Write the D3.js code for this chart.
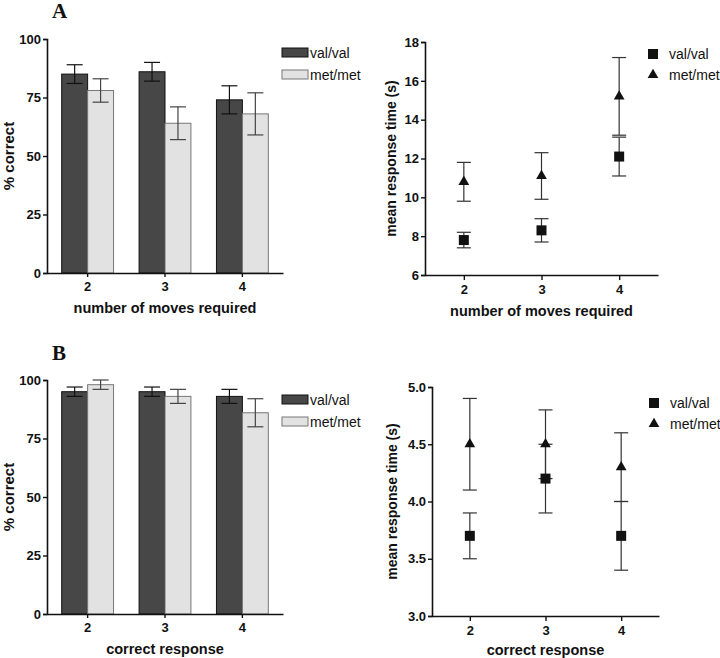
<!DOCTYPE html>
<html><head><meta charset="utf-8">
<script src="https://cdn.jsdelivr.net/npm/d3@7"></script>
<style>body{margin:0;background:#fff}svg{display:block}</style>
</head><body>
<svg id="c" width="720" height="658" font-family="Arial, 'Liberation Sans', sans-serif"></svg>
<script>
const groups = ["2","3","4"];
const seriesNames = ["val/val","met/met"];
// Panel A bars
const aBarVal = [85, 86, 74];
const aBarValErr = [4, 4, 6];
const aBarMet = [78, 64, 68];
const aBarMetErr = [5, 7, 9];
// Panel A scatter
const aRtVal = [7.8, 8.3, 12.1];
const aRtValErr = [0.4, 0.6, 1.0];
const aRtMet = [10.8, 11.1, 15.2];
const aRtMetErr = [1.0, 1.2, 2.0];
// Panel B bars
const bBarVal = [95, 95, 93];
const bBarValErr = [2, 2, 3];
const bBarMet = [98, 93, 86];
const bBarMetErr = [2, 3, 6];
// Panel B scatter
const bRtVal = [3.7, 4.2, 3.7];
const bRtValErr = [0.2, 0.3, 0.3];
const bRtMet = [4.5, 4.5, 4.3];
const bRtMetErr = [0.4, 0.3, 0.3];
const pctTicks = [0, 25, 50, 75, 100];
const aRtTicks = [6, 8, 10, 12, 14, 16, 18];
const bRtTicks = [3.0, 3.5, 4.0, 4.5, 5.0];

const svg = d3.select("#c");
const DARK = "#474747", LIGHT = "#e2e2e2";

function styleAxis(g){
  g.attr("font-family",null);
  g.selectAll("path.domain").attr("stroke","#111").attr("stroke-width",1.6);
  g.selectAll(".tick line").attr("stroke","#111").attr("stroke-width",1.4);
  g.selectAll("text").attr("font-size",13).attr("font-weight","bold").attr("fill","#111");
}

function barPanel(o){
  const y = d3.scaleLinear().domain([0,100]).range([o.y0, o.y1]);
  const x = d3.scaleBand().domain(groups).range([o.x0, o.x1]).paddingInner(0.33).paddingOuter(0.19);
  const xs = d3.scaleBand().domain(seriesNames).range([0, x.bandwidth()]);
  const g = svg.append("g");
  const series = [
    {name:"val/val", v:o.val, e:o.valErr, fill:DARK, stroke:"#111"},
    {name:"met/met", v:o.met, e:o.metErr, fill:LIGHT, stroke:"#777"}
  ];
  series.forEach(s=>{
    groups.forEach((c,i)=>{
      const bx = x(c)+xs(s.name), bw = xs.bandwidth();
      g.append("rect").attr("x",bx).attr("y",y(s.v[i])).attr("width",bw).attr("height",y(0)-y(s.v[i]))
        .attr("fill",s.fill).attr("stroke",s.stroke).attr("stroke-width",1);
      const cx = bx+bw/2, hi=y(s.v[i]+s.e[i]), lo=y(s.v[i]-s.e[i]);
      const ec = s.name==="val/val" ? "#111" : "#444";
      g.append("line").attr("x1",cx).attr("x2",cx).attr("y1",hi).attr("y2",lo).attr("stroke",ec).attr("stroke-width",1.2);
      [hi,lo].forEach(yy=>g.append("line").attr("x1",cx-8).attr("x2",cx+8).attr("y1",yy).attr("y2",yy).attr("stroke",ec).attr("stroke-width",1.2));
    });
  });
  const ya = g.append("g").attr("transform",`translate(${o.x0},0)`).call(d3.axisLeft(y).tickValues(pctTicks).tickSize(4).tickPadding(2));
  styleAxis(ya);
  const xa = g.append("g").attr("transform",`translate(0,${o.y0})`).call(d3.axisBottom(d3.scaleLinear().domain([0,1]).range([o.x0,o.x1])).tickValues([]).tickSizeOuter(0));
  styleAxis(xa);
  groups.forEach(c=>{
    const cx = x(c)+x.bandwidth()/2;
    g.append("line").attr("x1",cx).attr("x2",cx).attr("y1",o.y0).attr("y2",o.y0+4).attr("stroke","#111").attr("stroke-width",1.4);
    g.append("text").attr("x",cx).attr("y",o.y0+18).attr("text-anchor","middle").attr("font-size",13).attr("font-weight","bold").attr("fill","#111").text(c);
  });
  g.append("text").attr("transform",`translate(${o.ylx},${(o.y0+o.y1)/2}) rotate(-90)`).attr("text-anchor","middle")
    .attr("font-size",15).attr("font-weight","bold").attr("fill","#111").text("% correct");
  g.append("text").attr("x",(o.x0+o.x1)/2).attr("y",o.xly).attr("text-anchor","middle")
    .attr("font-size",14.5).attr("font-weight","bold").attr("fill","#111").text(o.xlabel);
  series.forEach((s,i)=>{
    g.append("rect").attr("x",282).attr("y",o.ly+i*22).attr("width",26).attr("height",9).attr("fill",s.fill).attr("stroke",s.stroke);
    g.append("text").attr("x",310).attr("y",o.ly+i*22+9.5).attr("font-size",14).attr("fill","#111").text(s.name);
  });
}

function scatterPanel(o){
  const y = d3.scaleLinear().domain(o.ydom).range([o.y0,o.y1]);
  const x = d3.scaleLinear().domain([1.5,4.5]).range([o.x0,o.x1]);
  const g = svg.append("g");
  const sq = d3.symbol().type(d3.symbolSquare).size(100);
  const tri = d3.symbol().type(d3.symbolTriangle).size(50);
  const series = [
    {name:"val/val", v:o.val, e:o.valErr, sym:sq},
    {name:"met/met", v:o.met, e:o.metErr, sym:tri}
  ];
  series.forEach(s=>{
    groups.forEach((c,i)=>{
      const cx = x(+c), hi=y(s.v[i]+s.e[i]), lo=y(s.v[i]-s.e[i]);
      g.append("line").attr("x1",cx).attr("x2",cx).attr("y1",hi).attr("y2",lo).attr("stroke","#333").attr("stroke-width",1.2);
      [hi,lo].forEach(yy=>g.append("line").attr("x1",cx-7).attr("x2",cx+7).attr("y1",yy).attr("y2",yy).attr("stroke","#333").attr("stroke-width",1.2));
    });
  });
  series.forEach(s=>{
    groups.forEach((c,i)=>{
      g.append("path").attr("d",s.sym()).attr("transform",`translate(${x(+c)},${y(s.v[i])})`).attr("fill","#111");
    });
  });
  const ya = g.append("g").attr("transform",`translate(${o.x0},0)`).call(d3.axisLeft(y).tickValues(o.ticks).tickFormat(o.fmt).tickSize(4).tickPadding(2));
  styleAxis(ya);
  const xa = g.append("g").attr("transform",`translate(0,${o.y0})`).call(d3.axisBottom(x).tickValues(groups.map(Number)).tickFormat(d3.format("d")).tickSize(5).tickSizeOuter(0).tickPadding(5));
  styleAxis(xa);
  g.append("text").attr("transform",`translate(${o.ylx},${(o.y0+o.y1)/2}) rotate(-90)`).attr("text-anchor","middle")
    .attr("font-size",14).attr("font-weight","bold").attr("fill","#111").text("mean response time (s)");
  g.append("text").attr("x",(o.x0+o.x1)/2).attr("y",o.xly).attr("text-anchor","middle")
    .attr("font-size",14.5).attr("font-weight","bold").attr("fill","#111").text(o.xlabel);
  series.forEach((s,i)=>{
    g.append("path").attr("d",s.sym()).attr("transform",`translate(${o.lx},${o.ly+i*21})`).attr("fill","#111");
    g.append("text").attr("x",o.lx+16).attr("y",o.ly+i*21+5).attr("font-size",14).attr("fill","#111").text(s.name);
  });
}

barPanel({x0:47,x1:283,y0:273,y1:39,val:aBarVal,valErr:aBarValErr,met:aBarMet,metErr:aBarMetErr,
  ylx:14,xly:313,xlabel:"number of moves required",ly:48});
barPanel({x0:47,x1:283,y0:614,y1:380,val:bBarVal,valErr:bBarValErr,met:bBarMet,metErr:bBarMetErr,
  ylx:14,xly:654,xlabel:"correct response",ly:395});
scatterPanel({x0:425,x1:658,y0:275,y1:42,ydom:[6,18],ticks:aRtTicks,fmt:d3.format("d"),
  val:aRtVal,valErr:aRtValErr,met:aRtMet,metErr:aRtMetErr,ylx:396,xly:316,xlabel:"number of moves required",lx:653,ly:54});
scatterPanel({x0:432,x1:659,y0:616,y1:387,ydom:[3,5],ticks:bRtTicks,fmt:d3.format(".1f"),
  val:bRtVal,valErr:bRtValErr,met:bRtMet,metErr:bRtMetErr,ylx:397,xly:655,xlabel:"correct response",lx:654,ly:403});

svg.append("text").attr("x",52).attr("y",18).attr("font-family","'Liberation Serif', 'DejaVu Serif', serif").attr("font-weight","bold").attr("font-size",21).attr("fill","#111").text("A");
svg.append("text").attr("x",52).attr("y",360).attr("font-family","'Liberation Serif', 'DejaVu Serif', serif").attr("font-weight","bold").attr("font-size",21).attr("fill","#111").text("B");
</script>
</body></html>
